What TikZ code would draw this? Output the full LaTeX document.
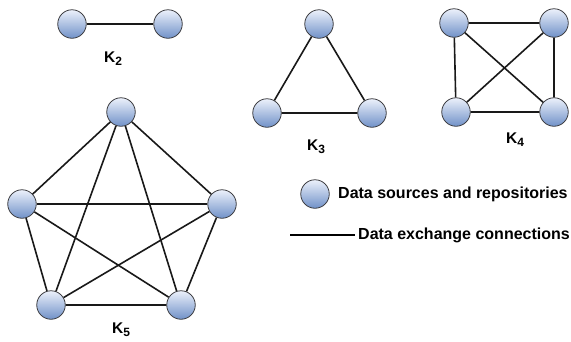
\documentclass[tikz,border=0pt]{standalone}
\usepackage{fontspec}
\setmainfont{Liberation Sans}
\definecolor{vtop}{RGB}{236,241,251}
\definecolor{vbot}{RGB}{112,145,200}
\definecolor{vrim}{RGB}{60,60,64}
\begin{document}
\begin{tikzpicture}[x=1pt,y=-1pt,
  vtx/.style={circle,draw=vrim,line width=0.8pt,minimum size=28.5pt,inner sep=0pt,
    top color=vtop,bottom color=vbot},
  edge/.style={line width=1.6pt,draw=black!90},
  klabel/.style={font=\fontsize{15.5}{16}\selectfont\bfseries,inner sep=0pt},
  legendtext/.style={font=\fontsize{16}{17}\selectfont\bfseries,anchor=west,inner sep=0pt}]
\useasboundingbox (0,0) rectangle (571,341);
\newcommand{\kname}[1]{K\raisebox{-0.35ex}{\fontsize{12}{12}\selectfont #1}}

% complete graph on two vertices
\node[vtx] (a1) at (72,24) {};
\node[vtx] (a2) at (168,24) {};
\draw[edge] (a1) -- (a2);
\node[klabel] (la) at (113,59) {\kname{2}};

% complete graph on three vertices
\node[vtx] (b1) at (319,24) {};
\node[vtx] (b2) at (267,113) {};
\node[vtx] (b3) at (372,113) {};
\draw[edge] (b1) -- (b2) -- (b3) -- (b1);
\node[klabel] (lb) at (316,147) {\kname{3}};

% complete graph on four vertices
\node[vtx] (c1) at (454,23) {};
\node[vtx] (c2) at (554,23) {};
\node[vtx] (c3) at (456,112) {};
\node[vtx] (c4) at (554,112) {};
\draw[edge] (c1) -- (c2) -- (c4) -- (c3) -- (c1);
\draw[edge] (c1) -- (c4);
\draw[edge] (c2) -- (c3);
\node[klabel] (lc) at (515,140) {\kname{4}};

% complete graph on five vertices
\node[vtx] (d1) at (121,112) {};
\node[vtx] (d2) at (222,204) {};
\node[vtx] (d3) at (181,305) {};
\node[vtx] (d4) at (51,305) {};
\node[vtx] (d5) at (22,204) {};
\draw[edge] (d1) -- (d2) -- (d3) -- (d4) -- (d5) -- (d1);
\draw[edge] (d1) -- (d3);
\draw[edge] (d1) -- (d4);
\draw[edge] (d2) -- (d4);
\draw[edge] (d2) -- (d5);
\draw[edge] (d3) -- (d5);
\node[klabel] (ld) at (121,330) {\kname{5}};

% legend
\node[vtx] (lv) at (315,194) {};
\node[legendtext] (lvt) at (338,194) {Data sources and repositories};
\coordinate (ls) at (290,235);
\coordinate (le) at (355,235);
\draw[line width=1.2pt] (ls) -- (le);
\node[legendtext] (let) at (358,235) {Data exchange connections};
\end{tikzpicture}
\end{document}
